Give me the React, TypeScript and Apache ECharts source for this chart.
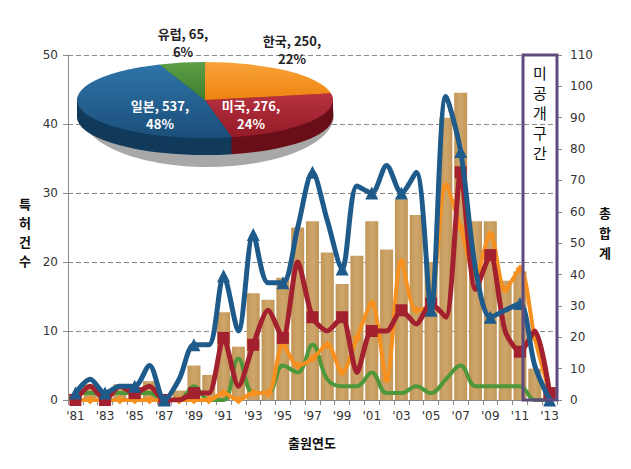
import React, { useEffect, useRef } from 'react';
import * as echarts from 'echarts';

const years = ["'81", "'82", "'83", "'84", "'85", "'86", "'87", "'88", "'89", "'90", "'91", "'92", "'93", "'94", "'95", "'96", "'97", "'98", "'99", "'00", "'01", "'02", "'03", "'04", "'05", "'06", "'07", "'08", "'09", "'10", "'11", "'12", "'13"];
const japan = [1, 3, 1, 2, 2, 5, 0, 3, 8, 8, 18, 10, 24, 17, 17, 25, 33, 26, 19, 31, 30, 34, 30, 33, 13, 44, 36, 19, 12, 13, 14, 5, 0];
const korea = [0, 0, 0, 0, 0, 0, 0, 0, 0, 0, 1, 0, 1, 1, 8, 5, 6, 8, 4, 9, 14, 3, 20, 13, 14, 31, 25, 18, 24, 16, 19, 9, 1];
const usa = [0, 2, 0, 2, 1, 2, 0, 0, 1, 1, 9, 2, 8, 13, 9, 20, 12, 10, 12, 4, 10, 10, 13, 11, 14, 12, 33, 16, 21, 10, 7, 10, 1];
const europe = [1, 1, 1, 1, 1, 1, 0, 0, 2, 0, 0, 6, 1, 1, 5, 4, 8, 3, 2, 2, 4, 1, 1, 2, 1, 3, 5, 2, 2, 2, 2, 0, 0];
const totals = [2, 5, 2, 5, 4, 6, 1, 3, 11, 8, 28, 17, 34, 32, 39, 55, 57, 47, 37, 46, 57, 48, 64, 59, 44, 90, 98, 57, 57, 38, 41, 10, 4];

const pieNames = ['한국', '미국', '일본', '유럽'];
const pieValues = [250, 276, 537, 65];

const boxChars = ['미', '공', '개', '구', '간'];

// layout / style (not data)
const PIE_CX = 205;
const PIE_CY = 100;
const PIE_RX = 128;
const PIE_RY = 38;
const PIE_T = 17;
const pieTop = [
  ['#F7A23A', '#EE8410'],
  ['#B8323F', '#931A27'],
  ['#2E74A8', '#1B4F7A'],
  ['#5C9E45', '#417F30'],
];
const pieSide = ['#B7600A', '#6A0F19', '#113A5B', '#2E5B22'];
const pieLabelOffsets = [
  [87, -51],
  [46, 14],
  [-45, 14],
  [-22, -58],
];
const pieLabelInside = [false, true, true, false];

const FONT = '"DejaVu Sans", Verdana, sans-serif';
const KFONT = '"Noto Sans CJK KR", sans-serif';

export default function App() {
  const ref = useRef<HTMLDivElement>(null);
  useEffect(() => {
    document.body.style.margin = '0';
    const chart = echarts.init(ref.current!, undefined, { renderer: 'svg' });
    const pieTotal = pieValues.reduce((a, b) => a + b, 0);
    const option: any = {
      animation: false,
      backgroundColor: '#ffffff',
      grid: { left: 68, right: 74, top: 55, bottom: 69 },
      xAxis: {
        type: 'category',
        data: years,
        boundaryGap: true,
        axisLine: { lineStyle: { color: '#8a8a8a', width: 1 } },
        axisTick: { show: true, interval: 0, length: 5, lineStyle: { color: '#8a8a8a' } },
        axisLabel: { interval: 1, color: '#333', fontSize: 12, fontFamily: FONT, margin: 10 },
      },
      yAxis: [
        {
          type: 'value', min: 0, max: 50, interval: 10,
          axisLine: { show: true, lineStyle: { color: '#8a8a8a' } },
          axisTick: { show: true, length: 5, lineStyle: { color: '#8a8a8a' } },
          axisLabel: { color: '#333', fontSize: 12, fontFamily: FONT, margin: 10 },
          splitLine: { show: true, lineStyle: { color: '#8a8a8a', type: [5, 3], width: 1 } },
        },
        {
          type: 'value', min: 0, max: 110, interval: 10,
          axisLine: { show: true, lineStyle: { color: '#8a8a8a' } },
          axisTick: { show: true, length: 5, lineStyle: { color: '#8a8a8a' } },
          axisLabel: { color: '#333', fontSize: 12, fontFamily: FONT, margin: 13 },
          splitLine: { show: false },
        },
      ],
      series: [
        {
          name: '총합계', type: 'bar', yAxisIndex: 1, data: totals, barWidth: 13,
          itemStyle: {
            color: new echarts.graphic.LinearGradient(0, 0, 1, 0, [
              { offset: 0, color: '#C29658' },
              { offset: 0.5, color: '#CEA66B' },
              { offset: 1, color: '#C29658' },
            ]),
          },
          z: 1,
        },
        {
          name: '유럽', type: 'line', data: europe, smooth: 0.4, symbol: 'none',
          lineStyle: { color: '#4E973A', width: 4 }, itemStyle: { color: '#4E973A' }, z: 3,
        },
        {
          name: '한국', type: 'line', data: korea, smooth: 0.3, symbol: 'diamond', symbolSize: 9,
          lineStyle: { color: '#F7901E', width: 4 }, itemStyle: { color: '#F7901E' }, z: 4,
        },
        {
          name: '미국', type: 'line', data: usa, smooth: 0.25, symbol: 'rect', symbolSize: 12,
          lineStyle: { color: '#A3212F', width: 5 }, itemStyle: { color: '#A3212F' }, z: 5,
        },
        {
          name: '일본', type: 'line', data: japan, smooth: 0.3, symbol: 'triangle', symbolSize: 13,
          lineStyle: { color: '#1F5B8A', width: 5 }, itemStyle: { color: '#1F5B8A' }, z: 6,
        },
        {
          name: 'pie', type: 'custom', coordinateSystem: 'none', silent: true, z: 20,
          data: pieValues.map((v, i) => [i, v]),
          renderItem: (params: any) => {
            const i = params.dataIndex;
            const before = pieValues.slice(0, i).reduce((a, b) => a + b, 0);
            const start = -Math.PI / 2 + (before / pieTotal) * Math.PI * 2;
            const end = start + (pieValues[i] / pieTotal) * Math.PI * 2;
            const sy = PIE_RY / PIE_RX;
            const children: any[] = [];
            if (i === 0) {
              children.push({
                type: 'ellipse',
                shape: { cx: PIE_CX + 3, cy: PIE_CY + 15, rx: PIE_RX - 2, ry: PIE_RY + 14 },
                style: { fill: '#A8A8A8' },
                z2: 0,
              });
            }
            for (let d = PIE_T; d >= 1; d--) {
              children.push({
                type: 'sector',
                shape: { cx: 0, cy: 0, r: PIE_RX, r0: 0, startAngle: start, endAngle: end, clockwise: true },
                x: PIE_CX, y: PIE_CY + d, scaleY: sy,
                style: { fill: pieSide[i] },
                z2: 1,
              });
            }
            children.push({
              type: 'sector',
              shape: { cx: 0, cy: 0, r: PIE_RX, r0: 0, startAngle: start, endAngle: end, clockwise: true },
              x: PIE_CX, y: PIE_CY, scaleY: sy,
              style: {
                fill: new echarts.graphic.LinearGradient(0, 0, 0, 1, [
                  { offset: 0, color: pieTop[i][0] },
                  { offset: 1, color: pieTop[i][1] },
                ]),
              },
              z2: 5,
            });
            const pct = Math.round((pieValues[i] / pieTotal) * 100);
            children.push({
              type: 'text',
              x: PIE_CX + pieLabelOffsets[i][0],
              y: PIE_CY + pieLabelOffsets[i][1],
              style: {
                text: `${pieNames[i]}, ${pieValues[i]},\n${pct}%`,
                fontSize: 13, fontWeight: 'bold', fontFamily: KFONT, lineHeight: 18,
                fill: pieLabelInside[i] ? '#ffffff' : '#222222',
                align: 'center', verticalAlign: 'middle',
              },
              z2: 10,
            });
            return { type: 'group', children };
          },
        },
      ],
      graphic: [
        {
          type: 'rect', z: 100,
          shape: { x: 523, y: 55, width: 34, height: 345 },
          style: { fill: 'none', stroke: '#5E4A7D', lineWidth: 3 },
        },
        ...boxChars.map((ch, k) => ({
          type: 'text', z: 101, x: 540, y: 72 + k * 20,
          style: {
            text: ch, fontSize: 15, fontFamily: KFONT,
            fill: '#111', align: 'center', verticalAlign: 'middle',
          },
        })),
        {
          type: 'text', x: 25, y: 232,
          style: {
            text: '특\n허\n건\n수', fontSize: 13, lineHeight: 19, fontWeight: 'bold', fontFamily: KFONT,
            fill: '#111', align: 'center', verticalAlign: 'middle',
          },
        },
        {
          type: 'text', x: 605, y: 232,
          style: {
            text: '총\n합\n계', fontSize: 13, lineHeight: 20, fontWeight: 'bold', fontFamily: KFONT,
            fill: '#111', align: 'center', verticalAlign: 'middle',
          },
        },
        {
          type: 'text', x: 312, y: 442,
          style: {
            text: '출원연도', fontSize: 13, fontWeight: 'bold', fontFamily: KFONT,
            fill: '#111', align: 'center', verticalAlign: 'middle',
          },
        },
      ],
    };
    chart.setOption(option);
    return () => chart.dispose();
  }, []);
  return <div ref={ref} style={{ width: 631, height: 469 }} />;
}
